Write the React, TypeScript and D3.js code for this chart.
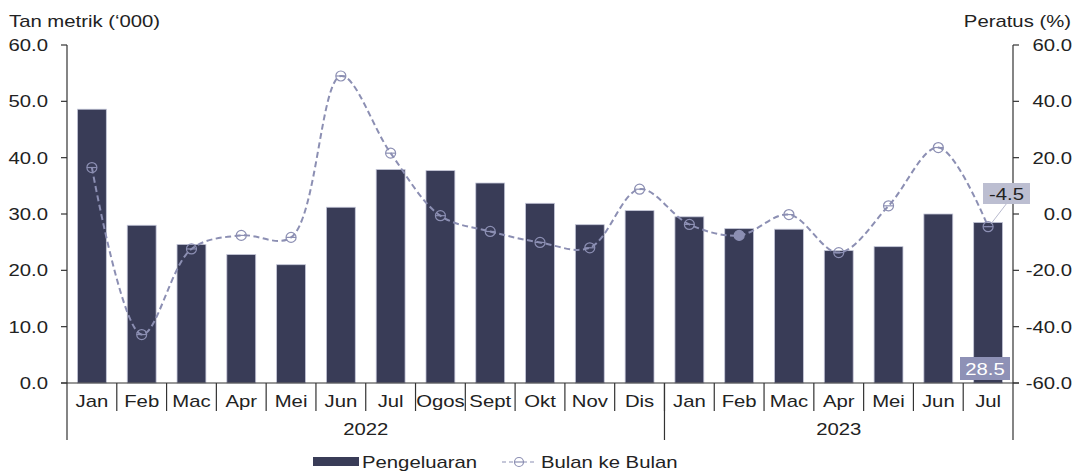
import React from "react";
import * as d3 from "d3";

const months = ["Jan","Feb","Mac","Apr","Mei","Jun","Jul","Ogos","Sept","Okt","Nov","Dis","Jan","Feb","Mac","Apr","Mei","Jun","Jul"];
const years = [{ label: "2022", start: 0, end: 12 }, { label: "2023", start: 12, end: 19 }];
const production = [48.6,28.0,24.6,22.8,21.0,31.2,37.9,37.7,35.5,31.9,28.1,30.6,29.5,27.4,27.3,23.5,24.2,30.0,28.5];
const mom = [16.5,-42.8,-12.4,-7.6,-8.3,49.0,21.6,-0.6,-6.2,-10.1,-12.0,8.8,-3.7,-7.6,-0.2,-13.7,2.9,23.6,-4.5];
const leftTicks = [0,10,20,30,40,50,60];
const rightTicks = [-60,-40,-20,0,20,40,60];

const W = 1081, H = 475;
const x0 = 67, x1 = 1013, yTop = 45, yBot = 383;
const font = "Liberation Sans, Arial, sans-serif";
const barColor = "#393c57";
const lineColor = "#8c8fb3";
const FS = 16;
const SX = 1.27;

function T({ x, y, anchor = "start", fill = "#222", children }: { x: number; y: number; anchor?: string; fill?: string; children: React.ReactNode }) {
  return (
    <text transform={`translate(${x},${y}) scale(${SX},1)`} fontSize={FS} textAnchor={anchor as any} fill={fill}>
      {children}
    </text>
  );
}

export default function App() {
  const x = d3.scaleBand<number>().domain(d3.range(months.length)).range([x0, x1]).paddingInner(0.42).paddingOuter(0.21);
  const step = (x1 - x0) / months.length;
  const yL = d3.scaleLinear().domain([0, 60]).range([yBot, yTop]);
  const yR = d3.scaleLinear().domain([-60, 60]).range([yBot, yTop]);
  const cx = (i: number) => x0 + step * (i + 0.5);
  const line = d3.line<number>().x((_, i) => cx(i)).y(d => yR(d)).curve(d3.curveCatmullRom.alpha(0.5));
  const last = months.length - 1;
  return (
    <svg width={W} height={H} style={{ position: "absolute", left: 0, top: 0, fontFamily: font }}>
      <rect width={W} height={H} fill="#fff" />
      <T x={9} y={27}>Tan metrik (‘000)</T>
      <T x={1071} y={27} anchor="end">Peratus (%)</T>
      {production.map((v, i) => (
        <rect key={i} x={x(i)} y={yL(v)} width={x.bandwidth()} height={yL(0) - yL(v)} fill={barColor} stroke="#c4c6d8" strokeWidth={0.8} />
      ))}
      {/* left axis */}
      <line x1={x0} x2={x0} y1={yTop} y2={440} stroke="#333" strokeWidth={1.2} />
      {leftTicks.map(t => (
        <g key={t}>
          <line x1={x0 - 6} x2={x0} y1={yL(t)} y2={yL(t)} stroke="#333" strokeWidth={1.2} />
          <T x={48} y={yL(t) + 6} anchor="end">{t.toFixed(1)}</T>
        </g>
      ))}
      {/* right axis */}
      <line x1={x1} x2={x1} y1={yTop} y2={440} stroke="#333" strokeWidth={1.2} />
      {rightTicks.map(t => (
        <g key={t}>
          <line x1={x1} x2={x1 + 6} y1={yR(t)} y2={yR(t)} stroke="#333" strokeWidth={1.2} />
          <T x={1072} y={yR(t) + 6} anchor="end">{t.toFixed(1)}</T>
        </g>
      ))}
      {/* x axis */}
      <line x1={x0 - 6} x2={x1 + 6} y1={yBot} y2={yBot} stroke="#333" strokeWidth={1.2} />
      {months.map((m, i) => (
        <g key={i}>
          {i > 0 && <line x1={x0 + step * i} x2={x0 + step * i} y1={yBot} y2={411} stroke="#333" strokeWidth={1.2} />}
          <T x={cx(i)} y={407} anchor="middle">{m}</T>
        </g>
      ))}
      {years.map((yr, k) => (
        <g key={yr.label}>
          {k > 0 && <line x1={x0 + step * yr.start} x2={x0 + step * yr.start} y1={yBot} y2={440} stroke="#333" strokeWidth={1.2} />}
          <T x={x0 + step * (yr.start + yr.end) / 2} y={435} anchor="middle">{yr.label}</T>
        </g>
      ))}
      {/* line */}
      <path d={line(mom) || ""} fill="none" stroke={lineColor} strokeWidth={2} strokeDasharray="6,3.5" />
      {mom.map((v, i) => (
        <g key={i}>
          <circle cx={cx(i)} cy={yR(v)} r={5} fill={i === 13 ? lineColor : "none"} stroke={lineColor} strokeWidth={1.2} />
          <line x1={cx(i) - 5} x2={cx(i) + 5} y1={yR(v)} y2={yR(v)} stroke={lineColor} strokeWidth={1.2} />
        </g>
      ))}
      {/* data labels */}
      <line x1={1007} x2={cx(last) + 3} y1={203} y2={yR(mom[last]) - 3} stroke="#b8bace" strokeWidth={1} />
      <rect x={983} y={183} width={47} height={21} fill="#bcbed1" />
      <T x={1006.5} y={200} anchor="middle">{mom[last].toFixed(1)}</T>
      <rect x={960} y={357} width={50} height={23} fill="#8e91b6" />
      <T x={985} y={375} anchor="middle" fill="#fff">{production[last].toFixed(1)}</T>
      {/* legend */}
      <rect x={313} y={457} width={46} height={9} fill={barColor} />
      <T x={362} y={468}>Pengeluaran</T>
      <line x1={502} x2={537} y1={462} y2={462} stroke={lineColor} strokeWidth={1.2} strokeDasharray="4,3" />
      <circle cx={519} cy={462} r={4.5} fill="#fff" stroke={lineColor} strokeWidth={1.2} />
      <line x1={514.5} x2={523.5} y1={462} y2={462} stroke={lineColor} strokeWidth={1.2} />
      <T x={541} y={468}>Bulan ke Bulan</T>
    </svg>
  );
}
